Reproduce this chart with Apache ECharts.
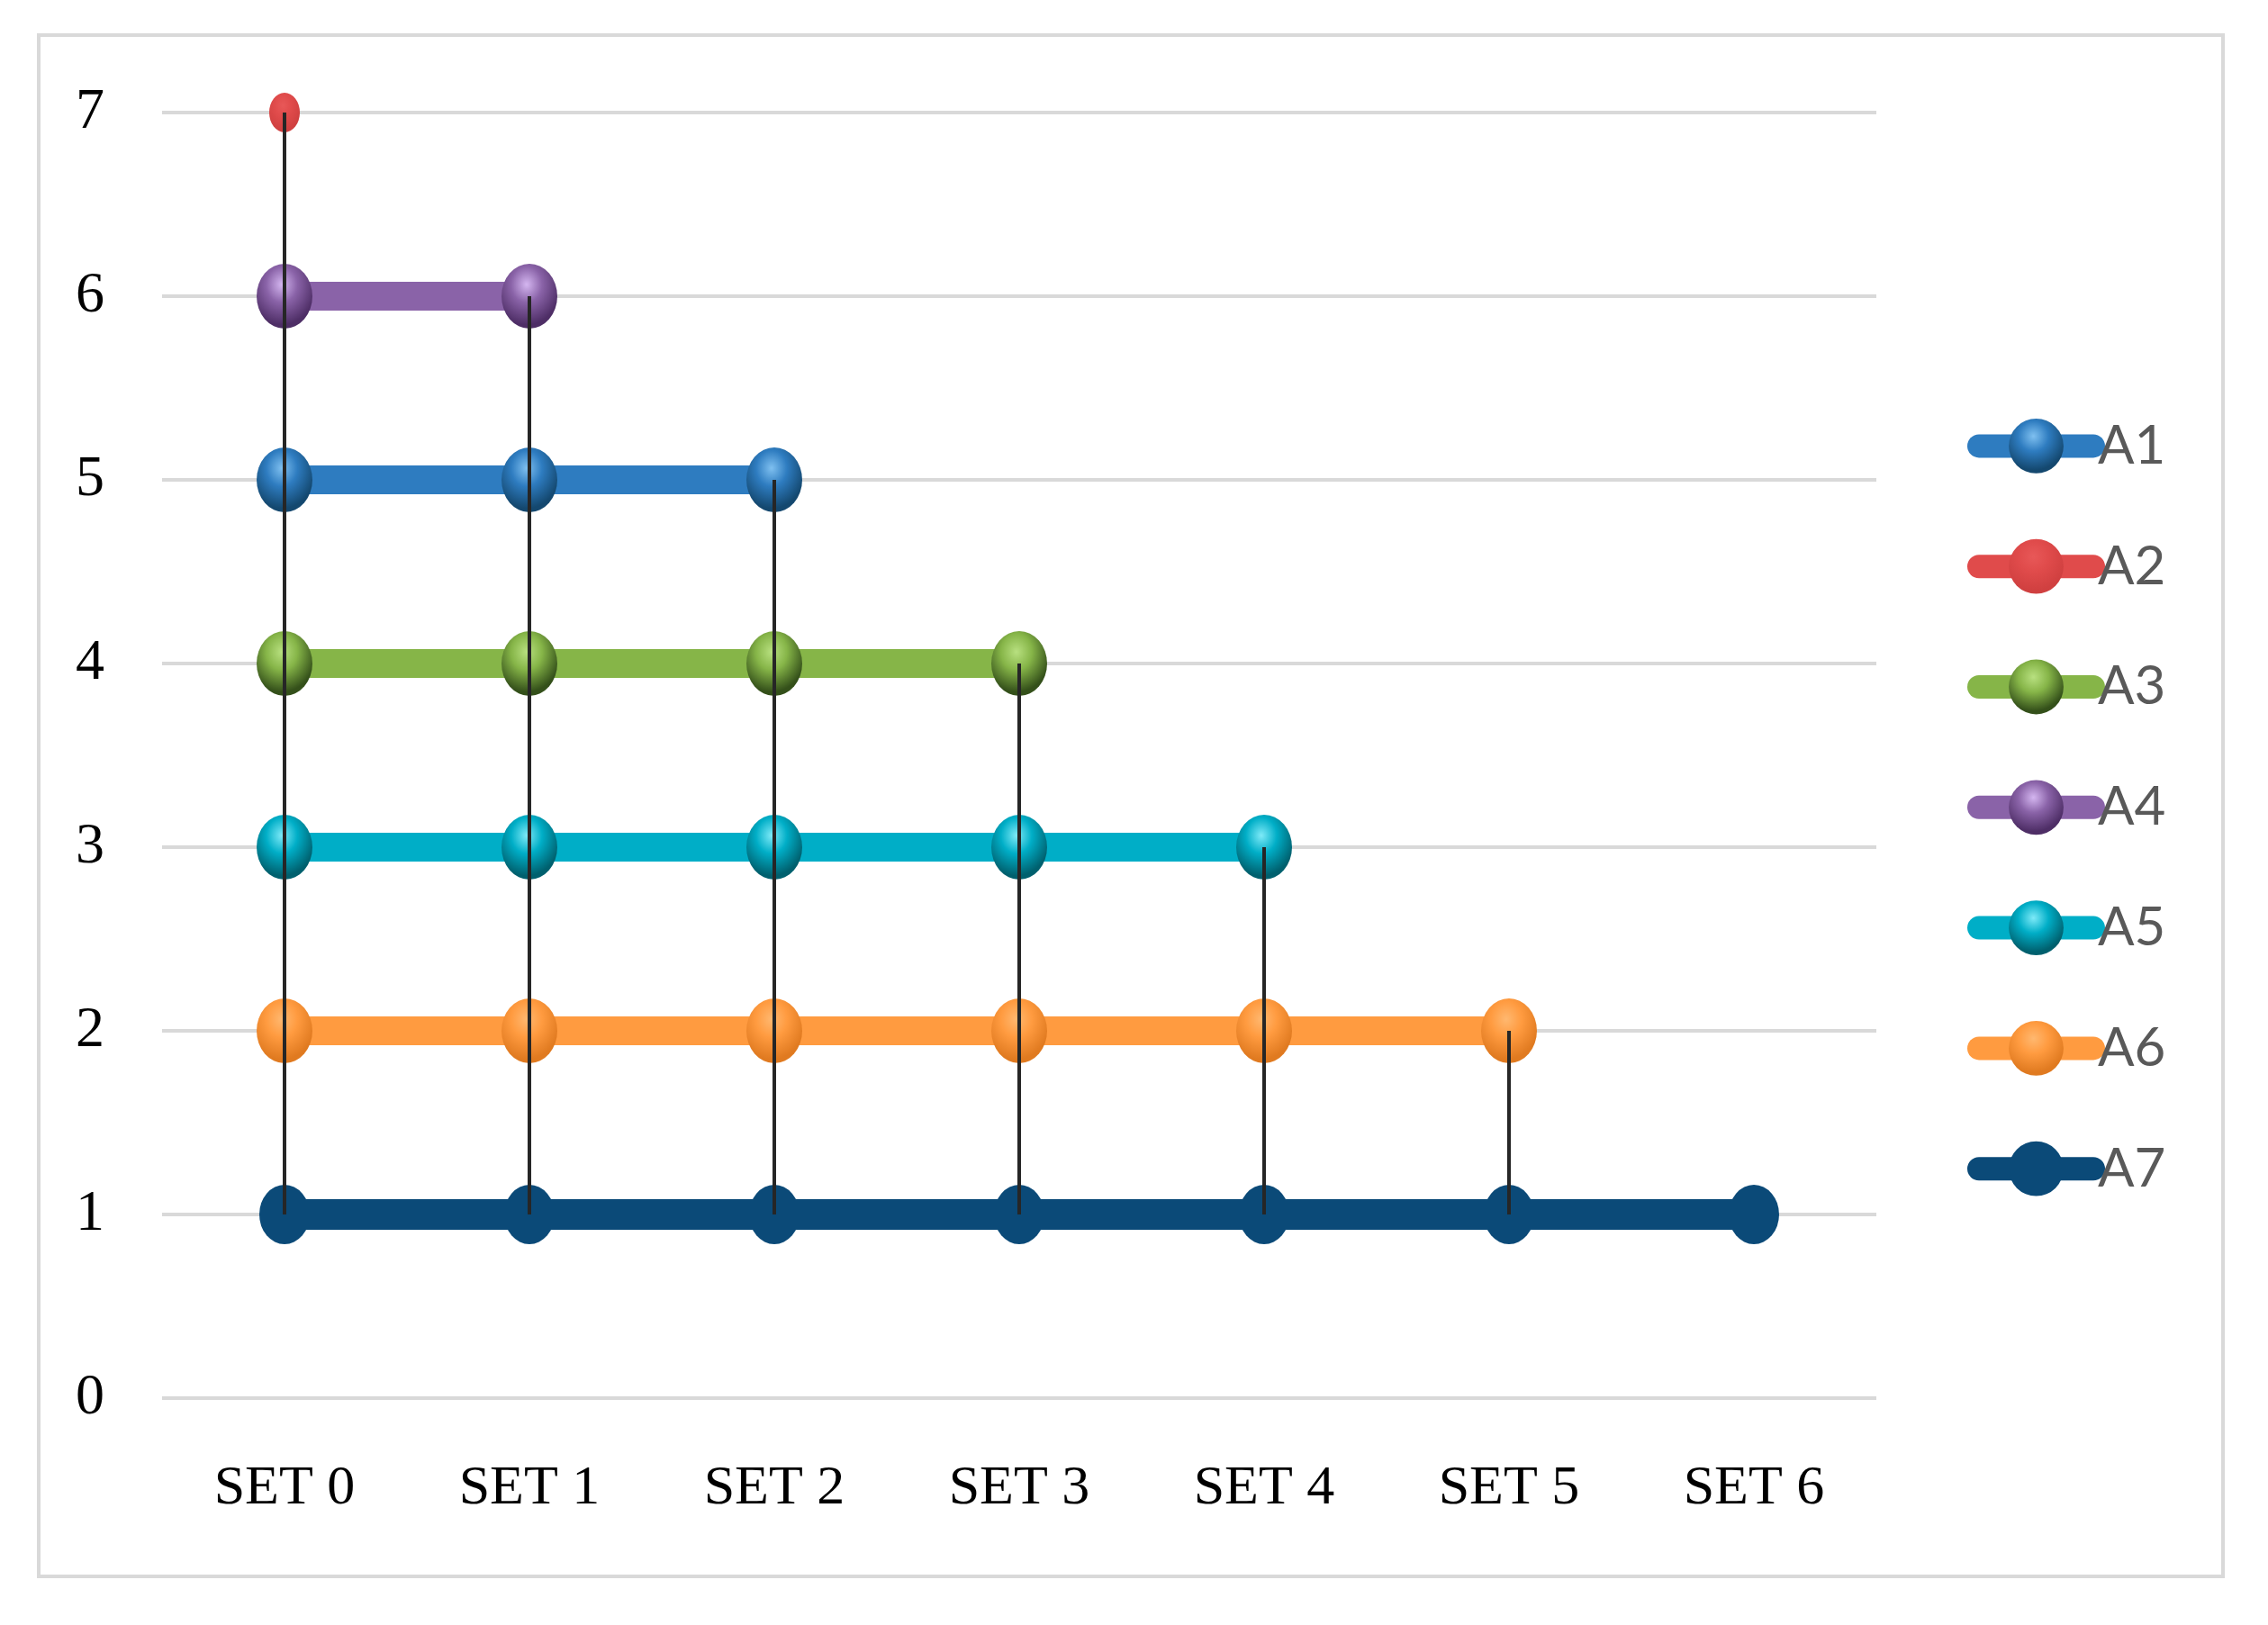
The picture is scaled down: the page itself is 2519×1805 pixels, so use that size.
<!DOCTYPE html>
<html>
<head>
<meta charset="utf-8">
<script src="https://cdn.jsdelivr.net/npm/echarts@6/dist/echarts.min.js"></script>
<style>
html,body{margin:0;padding:0;background:#fff;}
#c{width:2519px;height:1805px;}
</style>
</head>
<body>
<div id="c"></div>
<script>
const categories = ['SET 0','SET 1','SET 2','SET 3','SET 4','SET 5','SET 6'];
const yTicks = [0,1,2,3,4,5,6,7];
const seriesNames = ['A1','A2','A3','A4','A5','A6','A7'];
const A1 = [5,5,5,'-','-','-','-'];
const A2 = [7,'-','-','-','-','-','-'];
const A3 = [4,4,4,4,'-','-','-'];
const A4 = [6,6,'-','-','-','-','-'];
const A5 = [3,3,3,3,3,'-','-'];
const A6 = [2,2,2,2,2,2,'-'];
const A7 = [1,1,1,1,1,1,1];
const seriesValues = [A1,A2,A3,A4,A5,A6,A7];

const baseColors = ['#2E7CC0','#E04B4B','#86B548','#8A63A8','#00AEC7','#FF9B40','#0B4A78'];
const lightColors = ['#7FC0F0','#E85858','#B8E080','#D4B6F0','#7EEAF8','#FFB870','#0B4A78'];
const darkColors = ['#14486F','#D04040','#34501A','#4E2E66','#00606E','#E07A20','#0B4A78'];
const symbolSizes = [[62,72],[34,44],[62,72],[62,72],[62,72],[62,72],[56,66]];
const lineWidths = [32,32,32,32,32,32,34];

function sphere(i){
  return {type:'radial', x:0.45, y:0.32, r:0.62, colorStops:[
    {offset:0, color:lightColors[i]},
    {offset:0.45, color:baseColors[i]},
    {offset:1, color:darkColors[i]}
  ]};
}

// high-low lines derived from series values
const hiLo = categories.map((c, idx) => {
  const vals = seriesValues.map(s => s[idx]).filter(v => v !== '-');
  return [idx, Math.min(...vals), Math.max(...vals)];
});

const series = seriesNames.map((name, i) => ({
  name: name,
  type: 'line',
  data: seriesValues[i],
  symbol: 'circle',
  symbolSize: symbolSizes[i],
  showSymbol: true,
  lineStyle: {color: baseColors[i], width: lineWidths[i]},
  itemStyle: {color: sphere(i)},
  emphasis: {disabled: true},
  z: 2
}));

series.push({
  type: 'custom',
  name: 'hilo',
  data: hiLo,
  z: 10,
  renderItem: function(params, api){
    const lo = api.value(1), hi = api.value(2);
    if (!(hi > lo)) return null;
    const p1 = api.coord([api.value(0), hi]);
    const p2 = api.coord([api.value(0), lo]);
    return {type:'line', shape:{x1:p1[0], y1:p1[1], x2:p2[0], y2:p2[1]},
      style:{stroke:'#262626', lineWidth:4}};
  }
});

const chart = echarts.init(document.getElementById('c'));
chart.setOption({
  animation: false,
  backgroundColor: '#fff',
  graphic: [{
    type: 'rect', shape: {x: 43, y: 39, width: 2426, height: 1712},
    style: {fill: 'none', stroke: '#D9D9D9', lineWidth: 4}, z: -1
  }],
  grid: {left: 180, right: 435, top: 125, bottom: 252, containLabel: false},
  legend: {
    data: seriesNames,
    orient: 'vertical',
    left: 2180,
    top: 460,
    itemWidth: 127,
    itemHeight: 76,
    itemGap: 73,
    lineStyle: {width: 26, cap: 'round'},
    textStyle: {fontFamily: 'Lato', fontSize: 60, color: '#595959'}
  },
  xAxis: {
    type: 'category',
    data: categories,
    boundaryGap: true,
    axisLine: {show: false},
    axisTick: {show: false},
    axisLabel: {fontFamily: 'Liberation Serif', fontSize: 62, color: '#000', margin: 70}
  },
  yAxis: {
    type: 'value',
    min: yTicks[0], max: yTicks[yTicks.length-1], interval: 1,
    axisLine: {show: false},
    axisTick: {show: false},
    axisLabel: {fontFamily: 'Liberation Serif', fontSize: 64, color: '#000', margin: 64},
    splitLine: {lineStyle: {color: '#D9D9D9', width: 4}}
  },
  series: series
});
</script>
</body>
</html>
